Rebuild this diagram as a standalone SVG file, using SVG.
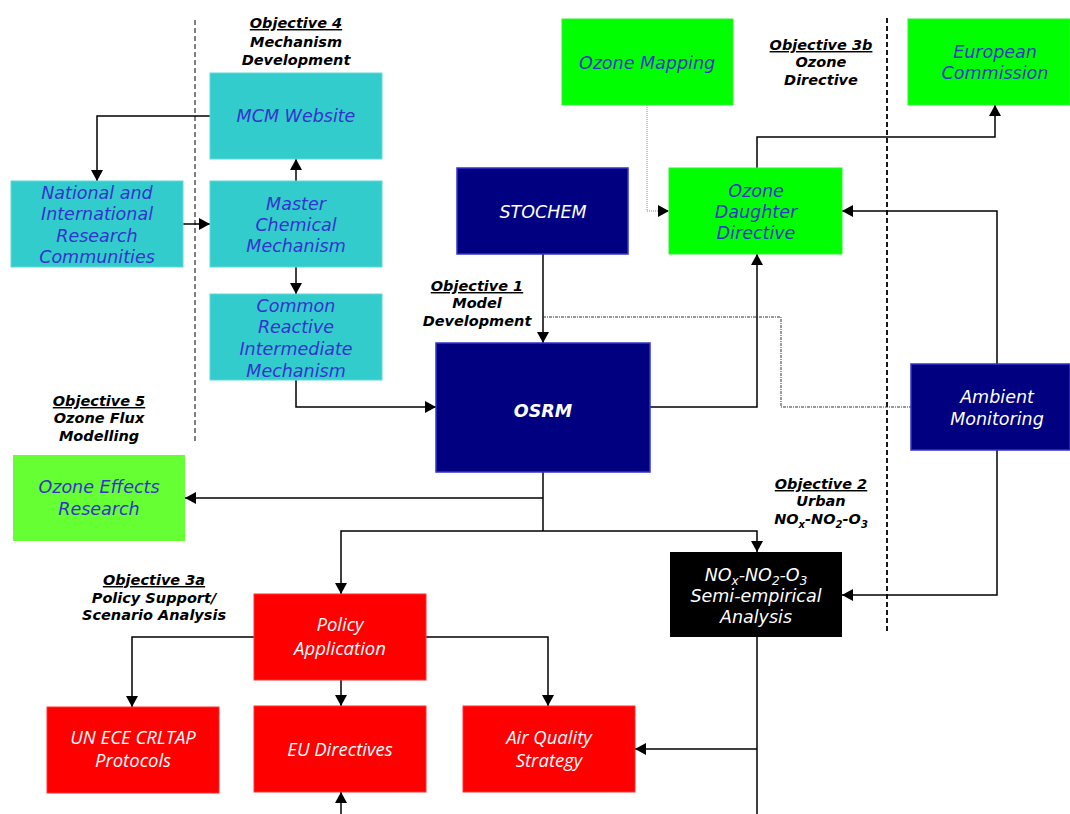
<svg xmlns="http://www.w3.org/2000/svg" width="1070" height="814" viewBox="0 0 1070 814">
<style>
.teal{fill:#33CCCC;stroke:#5fd8d8;stroke-width:1}
.green{fill:#00FF00;stroke:#33ee33;stroke-width:1}
.lgreen{fill:#66FF33}
.navy{fill:#000080;stroke:#3333CC;stroke-width:1.5}
.black{fill:#000000}
.red{fill:#FF0000;stroke:#ff3333;stroke-width:1}
.t{font-family:"DejaVu Sans",Verdana,sans-serif;font-style:italic;font-size:17.5px;text-anchor:middle;fill:#3333CC}
.w{fill:#FFFFFF}
.r{font-family:"Open Sans",sans-serif;font-style:italic;font-size:18.5px;text-anchor:middle;fill:#FFFFFF}
.obj{font-family:"DejaVu Sans",Verdana,sans-serif;font-style:italic;font-weight:bold;font-size:14.5px;text-anchor:middle;fill:#000}
.u{text-decoration:underline}
.c{fill:none;stroke:#000;stroke-width:1.5}
.dash{fill:none;stroke:#000;stroke-dasharray:5,3}
</style>
<defs>
<marker id="ar" markerWidth="12" markerHeight="12" refX="11" refY="6" orient="auto" markerUnits="userSpaceOnUse">
<path d="M0,0 L11,6 L0,12 Z" fill="#000"/>
</marker>
</defs>
<g id="dividers">
<line class="dash" x1="195" y1="20" x2="195" y2="443" stroke-width="1"/>
<line class="dash" x1="887" y1="18" x2="887" y2="632" stroke-width="1.8"/>
</g>
<g id="connectors">
<path class="c" d="M210,116 H97 V181" marker-end="url(#ar)"/>
<path class="c" d="M183,224 H210" marker-end="url(#ar)"/>
<path class="c" d="M296,181 V159" marker-end="url(#ar)"/>
<path class="c" d="M296,267 V294" marker-end="url(#ar)"/>
<path class="c" d="M296,380 V407 H436" marker-end="url(#ar)"/>
<path class="c" d="M543,254 V343" marker-end="url(#ar)"/>
<path class="c" d="M650,407 H757 V254" marker-end="url(#ar)"/>
<path class="c" d="M757,168 V137 H995 V105" marker-end="url(#ar)"/>
<path d="M647,105 V211 H669" fill="none" stroke="#888" stroke-width="1" stroke-dasharray="1,1" marker-end="url(#ar)"/>
<path class="c" d="M997,364 V211 H842" marker-end="url(#ar)"/>
<path class="c" d="M997,450 V595 H842" marker-end="url(#ar)"/>
<path d="M543,317 H781 V407 H911" fill="none" stroke="#333" stroke-width="1" stroke-dasharray="3,1,1,1"/>
<path class="c" d="M543,472 V531"/>
<path class="c" d="M543,498 H185" marker-end="url(#ar)"/>
<path class="c" d="M543,531 H341 V594" marker-end="url(#ar)"/>
<path class="c" d="M543,531 H757 V552" marker-end="url(#ar)"/>
<path class="c" d="M254,637 H132 V707" marker-end="url(#ar)"/>
<path class="c" d="M341,680 V706" marker-end="url(#ar)"/>
<path class="c" d="M426,637 H548 V706" marker-end="url(#ar)"/>
<path class="c" d="M757,637 V814"/>
<path class="c" d="M757,749 H635" marker-end="url(#ar)"/>
<path class="c" d="M341,814 V792" marker-end="url(#ar)"/>
</g>
<g id="labels">
<text class="obj" x="296" y="28"><tspan class="u">Objective 4</tspan><tspan x="296" y="47">Mechanism</tspan><tspan x="296" y="65">Development</tspan></text>
<text class="obj" x="821" y="50"><tspan class="u">Objective 3b</tspan><tspan x="821" y="67">Ozone</tspan><tspan x="821" y="85">Directive</tspan></text>
<text class="obj" x="477" y="291"><tspan class="u">Objective 1</tspan><tspan x="477" y="308">Model</tspan><tspan x="477" y="326">Development</tspan></text>
<text class="obj" x="99" y="406"><tspan class="u">Objective 5</tspan><tspan x="99" y="423">Ozone Flux</tspan><tspan x="99" y="441">Modelling</tspan></text>
<text class="obj" x="821" y="489"><tspan class="u">Objective 2</tspan><tspan x="821" y="506">Urban</tspan></text>
<text class="obj" x="821" y="524">NO<tspan font-size="10" dy="4">x</tspan><tspan dy="-4">-NO</tspan><tspan font-size="10" dy="4">2</tspan><tspan dy="-4">-O</tspan><tspan font-size="10" dy="4">3</tspan></text>
<text class="obj" x="154" y="585"><tspan class="u">Objective 3a</tspan><tspan x="154" y="603">Policy Support/</tspan><tspan x="154" y="620">Scenario Analysis</tspan></text>
</g>
<g id="mcm-website"><rect class="teal" x="210" y="73" width="172" height="86"/><text class="t" x="296" y="122">MCM Website</text></g>
<g id="national"><rect class="teal" x="11" y="181" width="172" height="86"/><text class="t" x="97" y="199">National and<tspan x="97" y="220">International</tspan><tspan x="97" y="242">Research</tspan><tspan x="97" y="263">Communities</tspan></text></g>
<g id="master"><rect class="teal" x="210" y="181" width="172" height="86"/><text class="t" x="296" y="210">Master<tspan x="296" y="231">Chemical</tspan><tspan x="296" y="252">Mechanism</tspan></text></g>
<g id="common"><rect class="teal" x="210" y="294" width="172" height="86"/><text class="t" x="296" y="312">Common<tspan x="296" y="333">Reactive</tspan><tspan x="296" y="355">Intermediate</tspan><tspan x="296" y="377">Mechanism</tspan></text></g>
<g id="stochem"><rect class="navy" x="457" y="168" width="171" height="86"/><text class="t w" x="543" y="218">STOCHEM</text></g>
<g id="osrm"><rect class="navy" x="436" y="343" width="214" height="129"/><text class="t w" x="543" y="417" font-size="23" font-weight="bold">OSRM</text></g>
<g id="ozone-mapping"><rect class="green" x="562" y="19" width="171" height="86"/><text class="t" x="647" y="69">Ozone Mapping</text></g>
<g id="european-commission"><rect class="green" x="908" y="19" width="162" height="86"/><text class="t" x="995" y="58">European<tspan x="995" y="79">Commission</tspan></text></g>
<g id="ozone-daughter"><rect class="green" x="669" y="168" width="173" height="86"/><text class="t" x="756" y="197">Ozone<tspan x="756" y="218">Daughter</tspan><tspan x="756" y="239">Directive</tspan></text></g>
<g id="ambient"><rect class="navy" x="911" y="364" width="159" height="86"/><text class="t w" x="997" y="403">Ambient<tspan x="997" y="425">Monitoring</tspan></text></g>
<g id="ozone-effects"><rect class="lgreen" x="13" y="455" width="172" height="86"/><text class="t" x="99" y="493">Ozone Effects<tspan x="99" y="515">Research</tspan></text></g>
<g id="nox"><rect class="black" x="670" y="552" width="172" height="85"/><text class="t w" x="756" y="581" font-size="18">NO<tspan font-size="12" dy="4">x</tspan><tspan dy="-4">-NO</tspan><tspan font-size="12" dy="4">2</tspan><tspan dy="-4">-O</tspan><tspan font-size="12" dy="4">3</tspan><tspan x="756" y="602">Semi-empirical</tspan><tspan x="756" y="623">Analysis</tspan></text></g>
<g id="policy"><rect class="red" x="254" y="594" width="172" height="86"/><text class="r" x="340" y="631">Policy<tspan x="340" y="655">Application</tspan></text></g>
<g id="unece"><rect class="red" x="47" y="707" width="172" height="86"/><text class="r" x="133" y="744">UN ECE CRLTAP<tspan x="133" y="767">Protocols</tspan></text></g>
<g id="eu-directives"><rect class="red" x="254" y="706" width="172" height="86"/><text class="r" x="340" y="756">EU Directives</text></g>
<g id="aqs"><rect class="red" x="463" y="706" width="172" height="86"/><text class="r" x="549" y="744">Air Quality<tspan x="549" y="767">Strategy</tspan></text></g>
</svg>
